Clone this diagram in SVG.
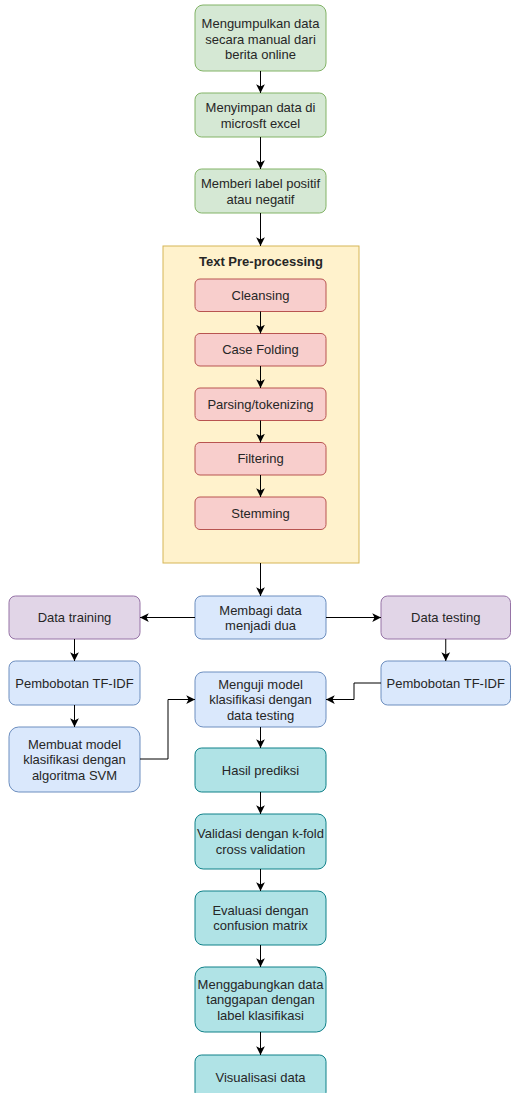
<svg xmlns="http://www.w3.org/2000/svg" width="511" height="1093" viewBox="0 0 511 1093">
<style>
text{font-family:"Liberation Sans",Arial,sans-serif;font-size:13px;fill:#262626;text-anchor:middle}
.t{font-weight:bold}
.g{fill:#d5e8d4;stroke:#82b366}
.y{fill:#fff2cc;stroke:#d6b656}
.r{fill:#f8cecc;stroke:#b85450}
.b{fill:#dae8fc;stroke:#6c8ebf}
.p{fill:#e1d5e7;stroke:#9673a6}
.c{fill:#b0e3e6;stroke:#0e8088}
.e{fill:none;stroke:#000;stroke-width:1;marker-end:url(#a)}
</style>
<defs>
<marker id="a" markerUnits="userSpaceOnUse" markerWidth="10" markerHeight="10" viewBox="0 0 8 8" refX="7" refY="4" orient="auto">
<path d="M0,0.5 L7,4 L0,7.5 L1.8,4 z" fill="#000"/>
</marker>
</defs>
<rect width="511" height="1093" fill="#fff"/>
<g id="container">
<rect class="y" x="163" y="246" width="196" height="317"/>
<text class="t" x="261" y="266">Text Pre-processing</text>
</g>
<g id="n1"><rect class="g" x="195" y="5" width="131" height="66" rx="8"/><text x="260.5" y="28">Mengumpulkan data</text><text x="260.5" y="43.5">secara manual dari</text><text x="260.5" y="59">berita online</text></g>
<g id="n2"><rect class="g" x="195" y="93" width="131" height="44" rx="6.6"/><text x="260.5" y="112">Menyimpan data di</text><text x="260.5" y="127.5">microsft excel</text></g>
<g id="n3"><rect class="g" x="195" y="169" width="131" height="44" rx="6.6"/><text x="260.5" y="188">Memberi label positif</text><text x="260.5" y="203.5">atau negatif</text></g>
<g id="p1"><rect class="r" x="195" y="279" width="131" height="32.5" rx="5"/><text x="260.5" y="299.75">Cleansing</text></g>
<g id="p2"><rect class="r" x="195" y="333.5" width="131" height="32.5" rx="5"/><text x="260.5" y="354.25">Case Folding</text></g>
<g id="p3"><rect class="r" x="195" y="388" width="131" height="32.5" rx="5"/><text x="260.5" y="408.75">Parsing/tokenizing</text></g>
<g id="p4"><rect class="r" x="195" y="442.5" width="131" height="32.5" rx="5"/><text x="260.5" y="463.25">Filtering</text></g>
<g id="p5"><rect class="r" x="195" y="497" width="131" height="32.5" rx="5"/><text x="260.5" y="517.75">Stemming</text></g>
<g id="split"><rect class="b" x="195" y="596" width="131" height="43" rx="6.5"/><text x="260.5" y="614.5">Membagi data</text><text x="260.5" y="630">menjadi dua</text></g>
<g id="train"><rect class="p" x="9" y="596" width="131" height="43" rx="6.5"/><text x="74.5" y="622">Data training</text></g>
<g id="test"><rect class="p" x="381" y="596" width="129.5" height="43" rx="6.5"/><text x="445.75" y="622">Data testing</text></g>
<g id="tfidf1"><rect class="b" x="9" y="661" width="131" height="44" rx="6.6"/><text x="74.5" y="687.5">Pembobotan TF-IDF</text></g>
<g id="tfidf2"><rect class="b" x="381" y="661" width="129.5" height="44" rx="6.6"/><text x="445.75" y="687.5">Pembobotan TF-IDF</text></g>
<g id="svm"><rect class="b" x="9" y="727" width="131" height="65" rx="9.7"/><text x="74.5" y="748.5">Membuat model</text><text x="74.5" y="764">klasifikasi dengan</text><text x="74.5" y="779.5">algoritma SVM</text></g>
<g id="uji"><rect class="b" x="195" y="672" width="131" height="55" rx="8.2"/><text x="260.5" y="688.5">Menguji model</text><text x="260.5" y="704">klasifikasi dengan</text><text x="260.5" y="719.5">data testing</text></g>
<g id="hasil"><rect class="c" x="195" y="748" width="131" height="44" rx="6.6"/><text x="260.5" y="774.5">Hasil prediksi</text></g>
<g id="validasi"><rect class="c" x="195" y="814" width="131" height="55" rx="8.2"/><text x="260.5" y="838.25">Validasi dengan k-fold</text><text x="260.5" y="853.75">cross validation</text></g>
<g id="evaluasi"><rect class="c" x="195" y="891" width="131" height="54" rx="8.1"/><text x="260.5" y="914.75">Evaluasi dengan</text><text x="260.5" y="930.25">confusion matrix</text></g>
<g id="gabung"><rect class="c" x="195" y="967" width="131" height="65" rx="9.7"/><text x="260.5" y="988.5">Menggabungkan data</text><text x="260.5" y="1004">tanggapan dengan</text><text x="260.5" y="1019.5">label klasifikasi</text></g>
<g id="visual"><rect class="c" x="195" y="1055" width="131" height="44" rx="6.6"/><text x="260.5" y="1081.5">Visualisasi data</text></g>
<g id="connectors">
<path class="e" d="M260.5,71 V93"/>
<path class="e" d="M260.5,137 V169"/>
<path class="e" d="M260.5,213 V246"/>
<path class="e" d="M260.5,311.5 V333.5"/>
<path class="e" d="M260.5,366 V388"/>
<path class="e" d="M260.5,420.5 V442.5"/>
<path class="e" d="M260.5,475 V497"/>
<path class="e" d="M260.5,563 V596"/>
<path class="e" d="M195,617.5 H140"/>
<path class="e" d="M326,617.5 H381"/>
<path class="e" d="M74.5,639 V661"/>
<path class="e" d="M74.5,705 V727"/>
<path class="e" d="M445.75,639 V661"/>
<path class="e" d="M140,759 H168 V699.5 H195"/>
<path class="e" d="M381,683 H354 V699.5 H326"/>
<path class="e" d="M260.5,727 V748"/>
<path class="e" d="M260.5,792 V814"/>
<path class="e" d="M260.5,869 V891"/>
<path class="e" d="M260.5,945 V967"/>
<path class="e" d="M260.5,1032 V1055"/>
</g>
</svg>
